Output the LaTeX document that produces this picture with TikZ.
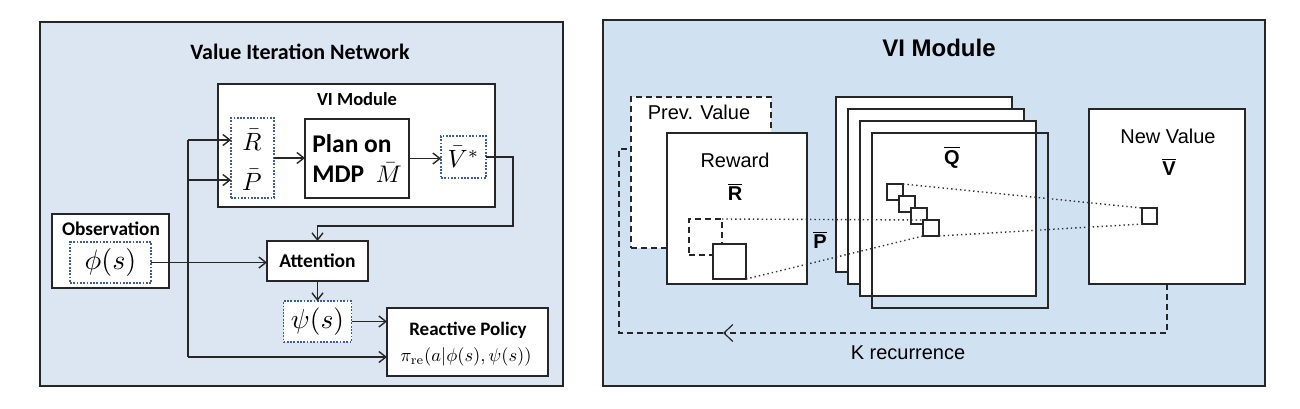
\documentclass[tikz,border=0pt]{standalone}
\usepackage{amsmath}
\usepackage[no-math]{fontspec}
\setmainfont{Liberation Sans}
\newfontfamily\calibri{Carlito}
\usetikzlibrary{arrows.meta, positioning, calc}
\definecolor{leftbg}{HTML}{DCE6F2}
\definecolor{rightbg}{HTML}{D0E1F1}
\definecolor{dotblue}{HTML}{3F5F92}
\newcommand{\barbf}[1]{$\overline{\mbox{\bfseries #1}}$}
\newcommand{\bigmath}[2]{\scalebox{#1}{\fontsize{10}{12}\selectfont$#2$}}

\begin{document}
\begin{tikzpicture}[
  x=1pt, y=-1pt,
  every node/.style={inner sep=0pt, outer sep=0pt},
  panel/.style={draw=black!85, line width=2pt},
  box/.style={draw=black!85, line width=1.7pt, fill=white},
  dotbox/.style={draw=dotblue, line width=1.8pt, dash pattern=on 1.8pt off 1.5pt, fill=white},
  cal/.style={font=\calibri\bfseries\fontsize{#1}{#1}\selectfont},
  arr/.style={-{Straight Barb[length=7pt,width=11pt]}, line width=1.4pt, black!85},
  rbox/.style={draw=black!85, line width=1.3pt, fill=white},
  dashbox/.style={rbox, dash pattern=on 6pt off 4pt},
  cell/.style={draw=black!85, line width=1.2pt, fill=white, minimum size=16pt},
  dotline/.style={line width=1.4pt, dash pattern=on 1.4pt off 3pt, black!80},
  loopline/.style={line width=1.2pt, dash pattern=on 6pt off 4pt, black!85},
  hel/.style={font=\fontsize{20}{24}\selectfont},
]
\useasboundingbox (0,0) rectangle (1300,408);

% Value Iteration Network
\node[panel, fill=leftbg, minimum width=523pt, minimum height=364pt] (vin) at (301.5,204) {};
\node[cal=22] (vintitle) at (300,52) {Value Iteration Network};
\node[box, minimum width=277pt, minimum height=123pt] (vimod) at (356.5,145.5) {};
\node[cal=18.5] (vimodtitle) at (357,99) {VI Module};
\node[dotbox, minimum width=43pt, minimum height=80pt] (rp) at (252.5,158) {};
\node (rbar) at (252,140) {\bigmath{2.5}{\bar R}};
\node (pbar) at (252,180) {\bigmath{2.5}{\bar P}};
\node[box, minimum width=104pt, minimum height=79pt, cal=25.5, align=left] (plan) at (357,158.5) {Plan on\\[4pt]MDP\ \ \bigmath{2.4}{\bar M}};
\node[dotbox, minimum width=45pt, minimum height=42pt] (vstar) at (463.5,157) {\bigmath{2.5}{\bar V^*}};
\node[box, minimum width=117pt, minimum height=74pt] (obs) at (110.5,251) {};
\node[cal=19.3] (obstitle) at (111,229) {Observation};
\node[dotbox, minimum width=81pt, minimum height=41pt] (phi) at (110.5,262.5) {\bigmath{2.8}{\phi(s)}};
\node[box, minimum width=101pt, minimum height=40pt, cal=19.5] (att) at (317.5,261) {Attention};
\node[dotbox, minimum width=68pt, minimum height=41pt] (psi) at (317.5,321.5) {\bigmath{2.75}{\psi(s)}};
\node[box, minimum width=161pt, minimum height=68pt] (react) at (467.5,342) {};
\node[cal=19] (reacttitle) at (468,330) {Reactive Policy};
\node (pol) at (466,357) {\bigmath{1.85}{\pi_{\mathrm{re}}(a|\phi(s),\psi(s))}};

% Arrows
\coordinate (split) at (188,263);
\draw[line width=1.4pt, black!85] (split |- rbar) -- (split |- pol);
\draw[arr] (split |- rbar) -- (rbar -| rp.west);
\draw[arr] (split |- pbar) -- (pbar -| rp.west);
\draw[arr] (split |- pol) -- (pol -| react.west);
\draw[arr] (phi.east) -- (phi.east -| att.west);
\draw[arr] (rp.east) -- (rp.east -| plan.west);
\draw[arr] (plan.east) -- (plan.east -| vstar.west);
\coordinate (vturn) at (513,226);
\draw[arr] (vstar.east) -| (vturn) -| (att.north);
\draw[arr] (att.south) -- (psi.north);
\draw[arr] (psi.east) -- (psi.east -| react.west);

% VI Module
\node[panel, fill=rightbg, line width=1.8pt, minimum width=662pt, minimum height=366pt] (vi) at (934,203) {};
\node[font=\bfseries\fontsize{24}{28}\selectfont] (vititle) at (939,48) {VI Module};
\node[dashbox, minimum width=140pt, minimum height=151pt] (prev) at (701,172.5) {};
\node[hel] (prevtitle) at (699,112) {Prev. Value};
\node[rbox, minimum width=140pt, minimum height=151pt] (reward) at (737,208.5) {};
\node[hel] (rewardtitle) at (735,160) {Reward};
\node[hel] (rbarbf) at (735,192) {\barbf{R}};
\node[dashbox, fill=none, minimum width=33pt, minimum height=36pt] (oldcell) at (705.5,237) {};
\node[cell, minimum width=33pt, minimum height=35pt] (rcell) at (729.5,261.5) {};
\foreach \i in {0,1,2}
  \node[rbox, minimum width=176pt, minimum height=175pt] (q\i) at (924+12*\i,184.5+12*\i) {};
\node[draw=black!85, line width=1.3pt, minimum width=176pt, minimum height=175pt] (q3) at (960,220.5) {};
\node[hel] (qbar) at (952,157) {\barbf{Q}};
\foreach \i in {1,...,4}
  \node[cell] (qc\i) at (883+12*\i,180+12*\i) {};
\node[hel] (pbarbf) at (820,240) {\barbf{P}};
\node[rbox, minimum width=156pt, minimum height=175pt] (newv) at (1167,196.5) {};
\node[hel] (newvtitle) at (1168,136) {New Value};
\node[hel] (vbarbf) at (1169,167) {\barbf{V}};
\node[cell, minimum width=15pt] (vcell) at (1149.5,216) {};

% Dotted links
\draw[dotline] (oldcell.north east) -- (qc4.north west);
\draw[dotline] (rcell.south east) -- (qc4.south west);
\draw[dotline] (qc1.north east) -- (vcell.north west);
\draw[dotline] (qc4.south east) -- (vcell.south west);

% Recurrence
\coordinate (ktip) at (723,333);
\coordinate (kcorner) at (619,149);
\draw[loopline, -{Straight Barb[length=9pt,width=17pt]}] (newv.south) |- (ktip);
\draw[loopline] (ktip) -| (kcorner) -- (kcorner -| prev.west);
\node[hel] (klabel) at (908,353) {K recurrence};
\end{tikzpicture}
\end{document}
